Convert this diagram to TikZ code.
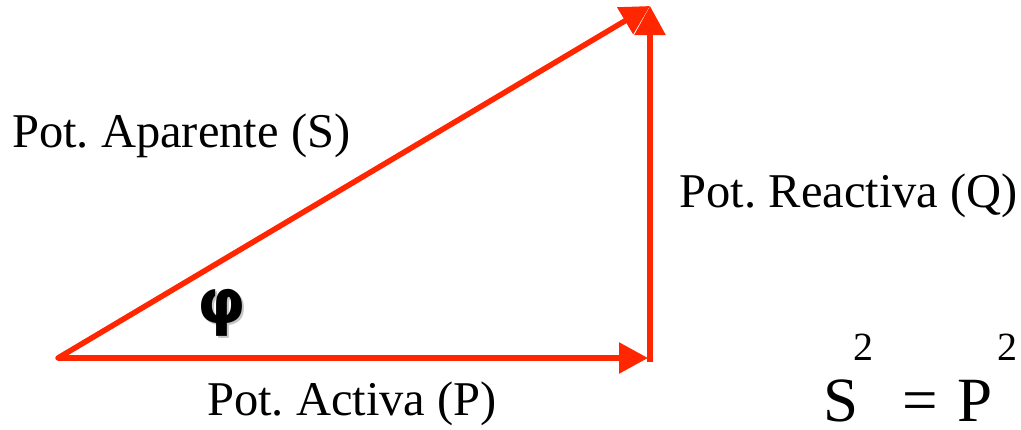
\documentclass[tikz,border=0pt]{standalone}
\usepackage{fontspec}
\setmainfont{Liberation Serif}
\newfontfamily\phifont{DejaVu Sans}
\usetikzlibrary{arrows.meta}
\definecolor{vred}{RGB}{255,38,0}
\frenchspacing
\tikzset{
  vec/.style={draw=vred, line width=5.5pt, -{Triangle[length=29pt,width=30pt]}},
  lbl/.style={inner sep=0pt, anchor=base west, font=\fontsize{48.5}{52}\selectfont},
  big/.style={inner sep=0pt, anchor=base west, font=\fontsize{63}{66}\selectfont},
  sup/.style={inner sep=0pt, anchor=base west, font=\fontsize{40}{44}\selectfont},
  phistyle/.style={inner sep=0pt, anchor=base west, font=\phifont\bfseries\fontsize{62}{66}\selectfont},
}
\begin{document}
\begin{tikzpicture}[x=1pt,y=-1pt]
\useasboundingbox (0,0) rectangle (1021,429);
\coordinate (O) at (58,358);
\coordinate (A) at (650,358);
\coordinate (B) at (650,6);
\coordinate (C) at (650,362);
\draw[vec, shorten >=2pt] (O) -- (A);
\draw[vec] (C) -- (B);
\draw[vec, line cap=round] (O) -- (B);
\node[lbl] (ap) at (12,147) {Pot. Aparente (S)};
\node[lbl, anchor=base east] (re) at (1018,207) {Pot. Reactiva (Q)};
\node[lbl] (ac) at (207,415) {Pot. Activa (P)};
\node[phistyle, text=black!45, opacity=0.5] (phishadow) at (199,325) {φ};
\node[phistyle] (phi) at (197,323) {φ};
\node[big] (s) at (823,421) {S};
\node[sup] (s2) at (853,360) {2};
\node[big] (eq) at (902,421) {=};
\node[big] (p) at (957,421) {P};
\node[sup] (p2) at (997,360) {2};
\end{tikzpicture}
\end{document}
